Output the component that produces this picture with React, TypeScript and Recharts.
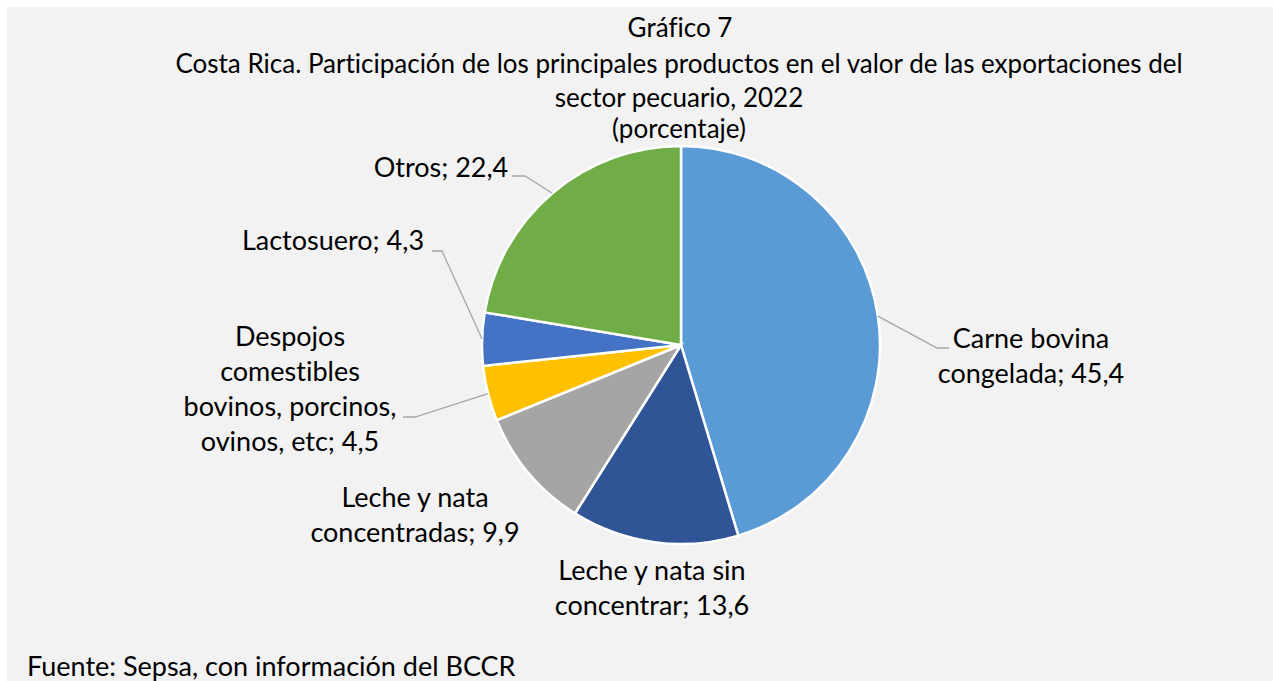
import { PieChart, Pie, Cell } from 'recharts';

// shares of livestock export value, 2022 (%)
const products = [
  'Carne bovina congelada',
  'Leche y nata sin concentrar',
  'Leche y nata concentradas',
  'Despojos comestibles bovinos, porcinos, ovinos, etc',
  'Lactosuero',
  'Otros',
];
const shares = [45.4, 13.6, 9.9, 4.5, 4.3, 22.4];

// label text as it wraps in the original
const wrappedNames = [
  ['Carne bovina', 'congelada'],
  ['Leche y nata sin', 'concentrar'],
  ['Leche y nata', 'concentradas'],
  ['Despojos', 'comestibles', 'bovinos, porcinos,', 'ovinos, etc'],
  ['Lactosuero'],
  ['Otros'],
];

const titleLines = [
  'Gráfico 7',
  'Costa Rica. Participación de los principales productos en el valor de las exportaciones del',
  'sector pecuario, 2022',
  '(porcentaje)',
];
const source = 'Fuente: Sepsa, con información del BCCR';

const colors = ['#5b9bd5', '#2f5597', '#a5a5a5', '#ffc000', '#4472c4', '#70ad47'];

const data = products.map((name, i) => ({ name, value: shares[i] }));

const FONT = 'Lato, "Open Sans", sans-serif';
const W = 1266;
const H = 674;
const CX = 674;
const CY = 338;
const R = 199;
const LINE_H = 35;

// where each label sits, relative to the pie centre (Excel moved them by hand)
const labelPlacement: { tx: number; ty: number; leader?: [number, number, number] }[] = [
  { tx: 350, ty: 3, leader: [256, 3, 268] },
  { tx: -29, ty: 235 },
  { tx: -266, ty: 162 },
  { tx: -391, ty: 1, leader: [-266, 72, -278] },
  { tx: -348, ty: -95, leader: [-239, -94, -249] },
  { tx: -240, ty: -168, leader: [-156, -169, -169] },
];

const fmt = (v: number) => v.toFixed(1).replace('.', ',');

const renderLabel = (props: any) => {
  const { cx, cy, midAngle, outerRadius, index, value } = props;
  const rad = Math.PI / 180;
  const p = labelPlacement[index];
  const lines = [...wrappedNames[index]];
  lines[lines.length - 1] = `${lines[lines.length - 1]}; ${fmt(value)}`;
  const sx = cx + outerRadius * Math.cos(-midAngle * rad);
  const sy = cy + outerRadius * Math.sin(-midAngle * rad);
  return (
    <g key={`lbl-${index}`}>
      {p.leader && (
        <polyline
          points={`${sx},${sy} ${cx + p.leader[0]},${cy + p.leader[1]} ${cx + p.leader[2]},${cy + p.leader[1]}`}
          fill="none"
          stroke="#a6a6a6"
          strokeWidth={1.3}
        />
      )}
      <text
        x={cx + p.tx}
        y={cy + p.ty}
        textAnchor="middle"
        fontFamily={FONT}
        fontSize={27}
        fill="#000"
        style={{ fontVariantLigatures: 'none' }}
      >
        {lines.map((l, i) => (
          <tspan key={i} x={cx + p.tx} dy={i === 0 ? 0 : LINE_H}>
            {l}
          </tspan>
        ))}
      </text>
    </g>
  );
};

export default function App() {
  return (
    <div style={{ position: 'absolute', left: 7, top: 7, width: W, height: H, background: '#f2f2f2' }}>
      <PieChart width={W} height={H} margin={{ top: 0, right: 0, bottom: 0, left: 0 }}>
        <Pie
          data={data}
          dataKey="value"
          nameKey="name"
          cx={CX}
          cy={CY}
          outerRadius={R}
          startAngle={90}
          endAngle={-270}
          stroke="#ffffff"
          strokeWidth={2.5}
          label={renderLabel}
          labelLine={false}
          isAnimationActive={false}
        >
          {data.map((d, i) => (
            <Cell key={d.name} fill={colors[i]} />
          ))}
        </Pie>
      </PieChart>
      <svg
        width={W}
        height={H}
        style={{ position: 'absolute', left: 0, top: 0, pointerEvents: 'none', fontVariantLigatures: 'none' }}
      >
        <g fontFamily={FONT} fill="#000" textAnchor="middle" fontSize={26}>
          <text x={673} y={30}>{titleLines[0]}</text>
          <text x={672} y={66}>{titleLines[1]}</text>
          <text x={672} y={100}>{titleLines[2]}</text>
          <text x={672} y={131}>{titleLines[3]}</text>
        </g>
        <text x={20} y={669} fontFamily={FONT} fontSize={27} fill="#000">
          {source}
        </text>
      </svg>
    </div>
  );
}
